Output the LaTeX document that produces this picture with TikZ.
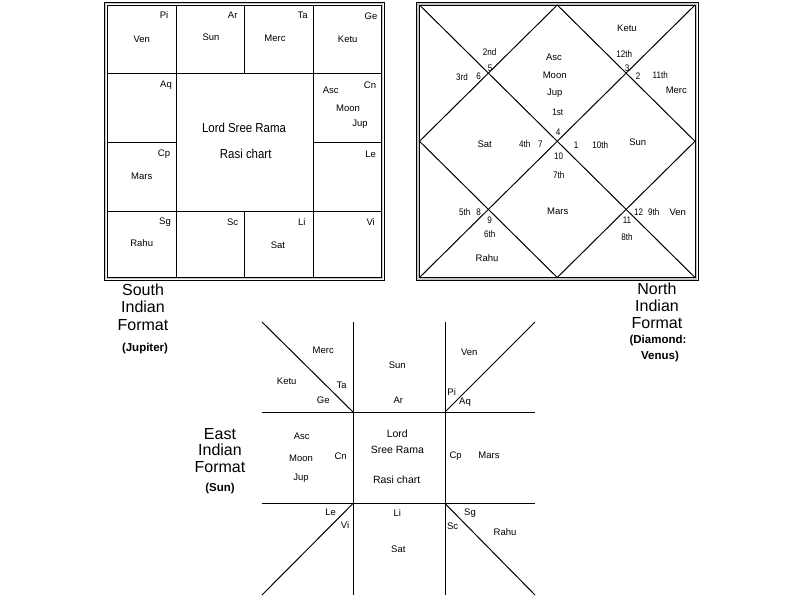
\documentclass[tikz,border=0pt]{standalone}
\usepackage{fontspec}
\setmainfont{Liberation Sans}
\begin{document}
\begin{tikzpicture}[x=1pt,y=-1pt,
  lbl/.style={inner sep=0pt,font=\fontsize{9.5}{11}\selectfont},
  nlbl/.style={inner sep=0pt,font=\fontsize{9.5}{11}\selectfont,xscale=0.85,transform shape},
  ctr/.style={inner sep=0pt,font=\fontsize{13}{15}\selectfont,xscale=0.88,transform shape},
  ectr/.style={inner sep=0pt,font=\fontsize{10.5}{12}\selectfont},
  ttl/.style={inner sep=0pt,font=\fontsize{16}{17}\selectfont},
  sub/.style={inner sep=0pt,font=\fontsize{11.5}{13}\selectfont\bfseries},
  chartline/.style={line width=1pt,black},
  bordermid/.style={line width=1.6pt,gray!45}]
\useasboundingbox (0,0) rectangle (801,600);
\fill[white] (0,0) rectangle (801,600);

% ---------------- South Indian chart ----------------
\coordinate (so1) at (104,2);   \coordinate (so2) at (384,280);
\coordinate (sm1) at (105.6,3.6); \coordinate (sm2) at (382.4,278.4);
\coordinate (si1) at (107,5);   \coordinate (si2) at (381,277);
\draw[bordermid] (sm1) rectangle (sm2);
\draw[chartline] (so1) rectangle (so2);
\draw[chartline] (si1) rectangle (si2);
\draw[chartline] (107,73) -- (381,73);
\draw[chartline] (107,211) -- (381,211);
\draw[chartline] (107,142) -- (176,142);
\draw[chartline] (313,142) -- (381,142);
\draw[chartline] (176,5) -- (176,277);
\draw[chartline] (313,5) -- (313,277);
\draw[chartline] (244,5) -- (244,73);
\draw[chartline] (244,211) -- (244,277);

\foreach \x/\y/\t [count=\i] in {
  164/15/Pi, 141.7/39/Ven, 232.7/15/Ar, 211/37.7/Sun, 302.7/15/Ta, 275/38/Merc,
  371/16/Ge, 347.7/39/Ketu, 166/85/Aq, 330.7/90/Asc, 370/85/Cn, 348/108/Moon,
  360/124/Jup, 164/154/Cp, 141.7/176/Mars, 370.7/154/Le, 165/221.7/Sg,
  141.7/243/Rahu, 232.7/222/Sc, 301.7/222/Li, 278/245/Sat, 370.7/222/Vi}
  \node[lbl] (s\i) at (\x,\y) {\t};
\node[ctr] (slord) at (244,128) {Lord Sree Rama};
\node[ctr] (srasi) at (245.7,154) {Rasi chart};

\node[ttl] (st1) at (143,290) {South};
\node[ttl] (st2) at (143,307) {Indian};
\node[ttl] (st3) at (143,325) {Format};
\node[sub] (st4) at (145,349) {(Jupiter)};

% ---------------- North Indian chart ----------------
\coordinate (no1) at (416.5,2.5); \coordinate (no2) at (698,280.5);
\coordinate (nm1) at (418,3.8);   \coordinate (nm2) at (696.5,279);
\coordinate (ni1) at (419.5,5);   \coordinate (ni2) at (695,277.5);
\coordinate (ntr) at (695,5);     \coordinate (nbl) at (419.5,277.5);
\coordinate (ntop) at (557.25,5);  \coordinate (nright) at (695,141.25);
\coordinate (nbot) at (557.25,277.5); \coordinate (nleft) at (419.5,141.25);
\draw[bordermid] (nm1) rectangle (nm2);
\draw[chartline] (no1) rectangle (no2);
\draw[chartline] (ni1) rectangle (ni2);
\draw[chartline] (ni1) -- (ni2);
\draw[chartline] (ntr) -- (nbl);
\draw[chartline] (ntop) -- (nright) -- (nbot) -- (nleft) -- cycle;

\foreach \x/\y/\t [count=\i] in {
  627/28/Ketu, 554/57.7/Asc, 554.7/75.7/Moon, 554.7/93.3/Jup, 676.3/90/Merc,
  484.7/144/Sat, 637.7/142.3/Sun, 557.7/211/Mars, 677.7/212.3/Ven, 487/257.7/Rahu}
  \node[lbl] (n\i) at (\x,\y) {\t};
\foreach \x/\y/\t [count=\i] in {
  489.7/51.7/2nd, 624.3/54/12th, 490/68/5, 627/68/3, 462/76.7/3rd, 478.7/76/6,
  638/76/2, 660.3/75/11th, 557.7/112.3/1st, 558/132.7/4, 524.7/144/4th,
  540.3/144/7, 576/145/1, 600.3/145/10th, 558.7/156.7/10, 558.7/175/7th,
  464.7/212.3/5th, 478.7/212.3/8, 638.7/212.3/12, 653.7/212.3/9th,
  489.7/220/9, 627/220/11, 489.7/234.3/6th, 627/237.3/8th}
  \node[nlbl] (h\i) at (\x,\y) {\t};

\node[ttl] (nt1) at (657,289) {North};
\node[ttl] (nt2) at (657,306) {Indian};
\node[ttl] (nt3) at (657,323) {Format};
\node[sub] (nt4) at (658,341) {(Diamond:};
\node[sub] (nt5) at (660,357) {Venus)};

% ---------------- East Indian chart ----------------
\coordinate (eh1a) at (262,412);   \coordinate (eh1b) at (535,412);
\coordinate (eh2a) at (262,503.5); \coordinate (eh2b) at (535,503.5);
\coordinate (ev1a) at (353,322);   \coordinate (ev1b) at (353,595);
\coordinate (ev2a) at (445,322);   \coordinate (ev2b) at (445,595);
\coordinate (etl) at (262,322); \coordinate (etr) at (535,322);
\coordinate (ebl) at (262,595); \coordinate (ebr) at (535,595);
\coordinate (ec1) at (353,412); \coordinate (ec2) at (445,412);
\coordinate (ec3) at (353,503.5); \coordinate (ec4) at (445,503.5);
\draw[chartline] (eh1a) -- (eh1b);
\draw[chartline] (eh2a) -- (eh2b);
\draw[chartline] (ev1a) -- (ev1b);
\draw[chartline] (ev2a) -- (ev2b);
\draw[chartline] (etl) -- (ec1);
\draw[chartline] (etr) -- (ec2);
\draw[chartline] (ebl) -- (ec3);
\draw[chartline] (ebr) -- (ec4);

\foreach \x/\y/\t [count=\i] in {
  323.3/350.7/Merc, 397.3/365/Sun, 469.3/352.7/Ven, 286.7/381.7/Ketu,
  341.7/385/Ta, 451.7/391.7/Pi, 323.3/400/Ge, 398.3/400/Ar, 465/402.7/Aq,
  301.7/436/Asc, 301/458.3/Moon, 340.7/456.7/Cn, 455.7/455.7/Cp,
  489/455.7/Mars, 301/478.3/Jup, 330.7/512.7/Le, 397.3/513.3/Li,
  470/512.7/Sg, 345/525/Vi, 452.7/526.7/Sc, 505/531.7/Rahu, 398.3/549.3/Sat}
  \node[lbl] (e\i) at (\x,\y) {\t};
\node[ectr] (elord) at (397.3,434) {Lord};
\node[ectr] (esree) at (397.3,450) {Sree Rama};
\node[ectr] (erasi) at (396.7,479.3) {Rasi chart};

\node[ttl] (et1) at (220,434) {East};
\node[ttl] (et2) at (220,450) {Indian};
\node[ttl] (et3) at (220,467) {Format};
\node[sub] (et4) at (220,489) {(Sun)};
\end{tikzpicture}
\end{document}
